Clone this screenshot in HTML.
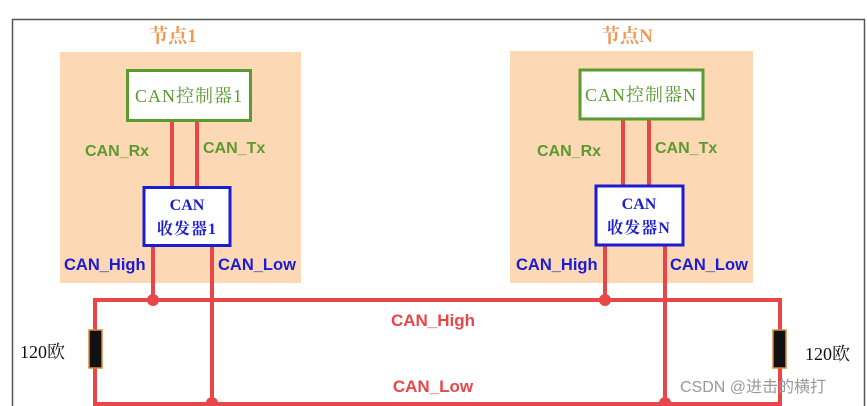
<!DOCTYPE html>
<html><head><meta charset="utf-8"><style>
html,body{margin:0;padding:0;background:#fff;}
svg{display:block;}
text{font-family:"Liberation Sans","Noto Sans CJK SC",sans-serif;}
.s{font-family:"Liberation Serif","Noto Serif CJK SC",serif;}
</style></head><body>
<svg width="867" height="406" viewBox="0 0 867 406" xmlns="http://www.w3.org/2000/svg">
<rect x="0" y="0" width="867" height="406" fill="#fff"/>
<path d="M12.5 406 V19.5 H864.5 V406" fill="none" stroke="#555" stroke-width="1.5"/>
<rect x="60" y="52" width="241" height="231" fill="#fcd8b4"/>
<rect x="510" y="51" width="243" height="232" fill="#fcd8b4"/>
<text x="173" y="42" class="s" font-size="19" fill="#ef9a55" text-anchor="middle" font-weight="bold">节点1</text>
<text x="627" y="42" class="s" font-size="19" fill="#ef9a55" text-anchor="middle" font-weight="bold">节点N</text>
<g stroke="#e8474a" stroke-width="4" fill="none">
<line x1="172" y1="120" x2="172" y2="187"/><line x1="197" y1="120" x2="197" y2="187"/>
<line x1="623" y1="119" x2="623" y2="185"/><line x1="649" y1="119" x2="649" y2="185"/>
<line x1="153" y1="246" x2="153" y2="300"/><line x1="212" y1="246" x2="212" y2="404"/>
<line x1="605" y1="245" x2="605" y2="300"/><line x1="665" y1="245" x2="665" y2="404"/>
<path d="M95 330 V300 H780 V330"/>
<path d="M95 368 V404 H780 V368"/>
</g>
<g fill="#e8474a"><circle cx="153" cy="300" r="6"/><circle cx="605" cy="300" r="6"/><circle cx="212" cy="403" r="6"/><circle cx="665" cy="403" r="6"/></g>
<rect x="89" y="330" width="13" height="38" fill="#111" stroke="#e0883a" stroke-width="1.5"/>
<rect x="773" y="330" width="13" height="38" fill="#111" stroke="#e0883a" stroke-width="1.5"/>
<text x="20" y="358" class="s" font-size="18" fill="#111">120欧</text>
<text x="805" y="360" class="s" font-size="18" fill="#111">120欧</text>
<rect x="127.5" y="70.5" width="123" height="50" fill="#fff" stroke="#5a9a2e" stroke-width="3"/>
<text x="189" y="102" class="s" font-size="18" fill="#5a9a2e" text-anchor="middle" letter-spacing="1">CAN控制器1</text>
<rect x="580" y="70" width="123" height="49" fill="#fff" stroke="#5a9a2e" stroke-width="3"/>
<text x="641" y="101" class="s" font-size="18" fill="#5a9a2e" text-anchor="middle" letter-spacing="1">CAN控制器N</text>
<rect x="144" y="187.5" width="86" height="58" fill="#fff" stroke="#1c1cd0" stroke-width="3"/>
<text x="187" y="210" class="s" font-size="16" fill="#1c1cd0" text-anchor="middle" font-weight="bold">CAN</text>
<text x="187" y="234" class="s" font-size="16" fill="#1c1cd0" text-anchor="middle" font-weight="bold" letter-spacing="1">收发器1</text>
<rect x="596" y="186" width="87" height="59" fill="#fff" stroke="#1c1cd0" stroke-width="3"/>
<text x="639" y="209" class="s" font-size="16" fill="#1c1cd0" text-anchor="middle" font-weight="bold">CAN</text>
<text x="639" y="233" class="s" font-size="16" fill="#1c1cd0" text-anchor="middle" font-weight="bold" letter-spacing="1">收发器N</text>
<g font-size="16" font-weight="bold" fill="#5a9a2e">
<text x="85" y="156">CAN_Rx</text><text x="203" y="153">CAN_Tx</text>
<text x="537" y="156">CAN_Rx</text><text x="655" y="153">CAN_Tx</text>
</g>
<g font-size="16.5" font-weight="bold" fill="#1c1cd0">
<text x="64" y="270">CAN_High</text><text x="218" y="270">CAN_Low</text>
<text x="516" y="270">CAN_High</text><text x="670" y="270">CAN_Low</text>
</g>
<g font-size="17" font-weight="bold" fill="#e8474a" text-anchor="middle">
<text x="433" y="326">CAN_High</text><text x="433" y="392">CAN_Low</text>
</g>
<text x="680" y="392" font-size="16" fill="#999">CSDN @进击的横打</text>
</svg>
</body></html>
